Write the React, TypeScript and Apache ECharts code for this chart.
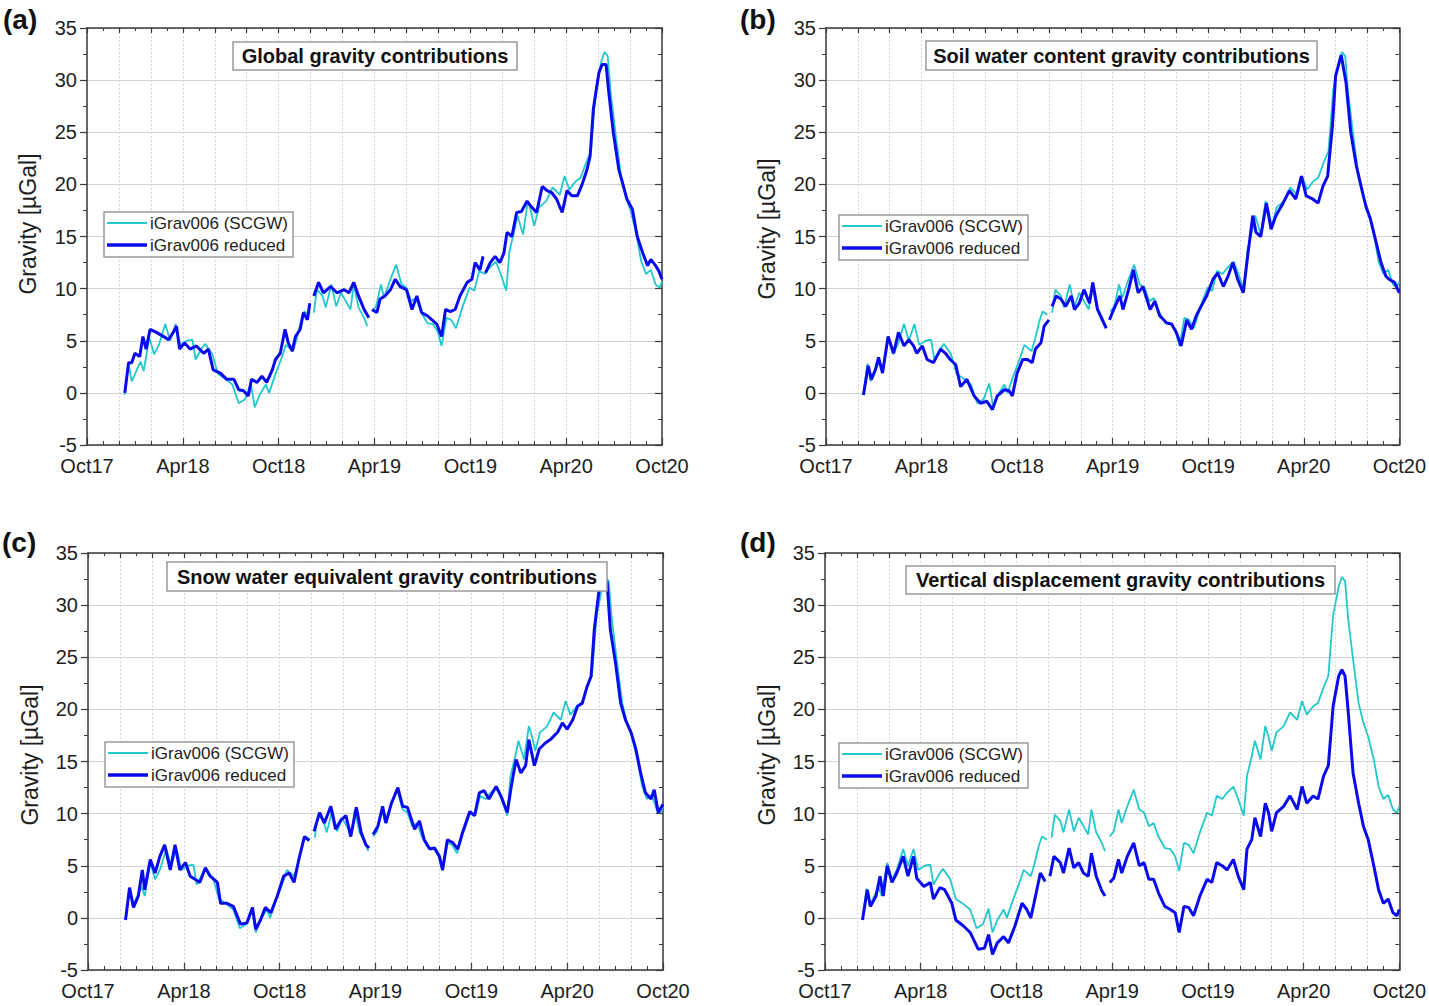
import React, { useEffect, useRef } from "react";
import * as echarts from "echarts";

// x = months since 1 Oct 2017
const xLabels = ["Oct17", "Apr18", "Oct18", "Apr19", "Oct19", "Apr20", "Oct20"];
const seriesNames = ["iGrav006 (SCGW)", "iGrav006 reduced"];
const panelTitles = [
  "Global gravity contributions",
  "Soil water content gravity contributions",
  "Snow water equivalent gravity contributions",
  "Vertical displacement gravity contributions",
];
const panelLetters = ["(a)", "(b)", "(c)", "(d)"];

// observed gravity (same in all panels)
const scgw: [number, number | null][] = [
  [2.35, -0.2], [2.6, 2.8], [2.8, 1.1], [3.0, 1.8], [3.35, 3.0], [3.55, 2.1], [3.9, 5.3], [4.2, 3.7],
  [4.5, 4.6], [4.9, 6.6], [5.2, 5.0], [5.55, 6.6], [5.85, 4.6], [6.25, 5.0], [6.6, 5.1], [6.8, 3.2],
  [7.2, 4.3], [7.4, 4.7], [7.85, 3.7], [8.2, 1.8], [8.7, 1.3], [9.1, 0.8], [9.5, -1.0], [9.9, -0.6],
  [10.25, 0.9], [10.5, -1.4], [10.8, -0.2], [11.2, 0.8], [11.4, 0.0], [11.8, 1.8], [12.2, 3.4],
  [12.45, 4.6], [12.9, 4.0], [13.1, 5.0], [13.4, 6.9], [13.6, 7.8], [13.9, 7.5], [14.05, null],
  [14.2, 7.7], [14.4, 9.9], [14.75, 9.3], [14.95, 8.2], [15.3, 10.4], [15.6, 8.3], [15.9, 9.6],
  [16.2, 8.8], [16.5, 8.0], [16.7, 10.4], [17.0, 8.2], [17.35, 7.2], [17.55, 6.4], [17.7, null],
  [17.85, 7.8], [18.1, 8.3], [18.4, 10.4], [18.6, 9.1], [18.95, 10.7], [19.35, 12.3], [19.7, 10.4],
  [20.0, 10.1], [20.3, 8.8], [20.6, 9.1], [20.9, 7.8], [21.3, 6.7], [21.65, 6.6], [21.95, 5.9],
  [22.2, 4.5], [22.5, 7.2], [22.8, 7.0], [23.1, 6.2], [23.5, 8.2], [23.95, 10.1], [24.25, 9.8],
  [24.55, 11.7], [24.9, 11.4], [25.2, 12.0], [25.6, 12.6], [25.9, 11.4], [26.25, 9.8], [26.45, 13.6],
  [26.75, 15.5], [26.95, 17.0], [27.3, 15.2], [27.6, 18.4], [27.8, 17.4], [28.0, 16.0], [28.3, 17.8],
  [28.75, 18.4], [29.15, 19.7], [29.6, 19.0], [29.9, 20.8], [30.2, 19.5], [30.6, 20.3], [30.9, 20.6],
  [31.25, 22.1], [31.55, 23.2], [31.85, 29.0], [32.2, 31.8], [32.4, 32.7], [32.6, 32.3], [32.8, 28.6],
  [33.1, 24.8], [33.45, 20.6], [33.75, 18.7], [34.05, 17.4], [34.4, 15.2], [34.7, 12.6], [35.0, 11.4],
  [35.3, 11.8], [35.6, 10.4], [35.85, 10.1], [36.0, 10.7],
];

const reducedGlobal: [number, number | null][] = [
  [2.37, 0], [2.6, 2.9], [2.8, 2.9], [3.0, 3.8], [3.3, 3.5], [3.5, 5.4], [3.7, 4.2], [3.95, 6.1],
  [4.35, 5.8], [4.8, 5.4], [5.1, 5.1], [5.4, 5.8], [5.6, 6.4], [5.8, 4.2], [6.1, 4.8], [6.45, 4.2],
  [6.85, 4.5], [7.3, 3.8], [7.6, 4.2], [7.9, 2.2], [8.35, 1.9], [8.75, 1.3], [9.2, 1.3], [9.5, 0.3],
  [9.8, 0.2], [10.1, -0.3], [10.3, 1.3], [10.65, 1.0], [10.95, 1.6], [11.25, 1.0], [11.6, 2.2],
  [11.8, 3.2], [12.1, 3.8], [12.4, 6.1], [12.6, 4.8], [12.85, 4.0], [13.05, 5.4], [13.35, 6.1],
  [13.55, 7.7], [13.8, 7.0], [13.95, 8.6], [14.05, null], [14.2, 9.3], [14.5, 10.6], [14.8, 9.6],
  [15.25, 10.2], [15.65, 9.6], [16.1, 9.9], [16.4, 9.6], [16.7, 10.6], [17.0, 9.3], [17.35, 8.0],
  [17.65, 7.2], [17.75, null], [17.85, 8.0], [18.15, 7.7], [18.35, 9.0], [18.65, 9.3], [19.0, 9.9],
  [19.3, 10.9], [19.6, 10.2], [20.0, 9.9], [20.35, 8.0], [20.65, 9.3], [20.95, 7.7], [21.3, 7.4],
  [21.6, 7.0], [21.9, 6.6], [22.2, 5.4], [22.45, 8.0], [22.75, 7.8], [23.05, 8.0], [23.35, 9.3],
  [23.8, 10.6], [24.1, 10.9], [24.3, 12.5], [24.6, 11.8], [24.8, 13.1], [24.88, null], [24.95, 11.5],
  [25.25, 12.5], [25.55, 13.1], [25.85, 12.5], [26.1, 13.4], [26.3, 15.4], [26.6, 15.0], [26.9, 17.3],
  [27.2, 17.4], [27.55, 18.4], [27.85, 17.8], [28.15, 17.3], [28.5, 19.8], [28.8, 19.4], [29.1, 19.2],
  [29.4, 18.6], [29.75, 17.3], [30.05, 19.4], [30.35, 18.9], [30.7, 18.9], [31.0, 20.0], [31.3, 21.4],
  [31.5, 22.7], [31.7, 27.2], [32.05, 30.7], [32.25, 31.5], [32.5, 31.5], [32.65, 29.1], [32.95, 25.0],
  [33.3, 21.4], [33.5, 20.3], [33.8, 18.6], [34.15, 17.6], [34.45, 15.0], [34.8, 13.4], [35.1, 12.2],
  [35.3, 12.8], [35.6, 12.2], [35.8, 11.7], [36.0, 10.9],
];

const reducedSoil: [number, number | null][] = [
  [2.35, -0.2], [2.65, 2.6], [2.85, 1.3], [3.1, 2.2], [3.3, 3.4], [3.55, 1.9], [3.9, 5.4], [4.25, 3.8],
  [4.55, 5.8], [4.9, 4.5], [5.2, 5.1], [5.5, 4.5], [5.7, 3.8], [6.05, 4.5], [6.35, 3.2], [6.75, 2.9],
  [7.2, 4.2], [7.5, 3.8], [7.8, 3.2], [8.15, 2.7], [8.45, 0.6], [8.85, 1.3], [9.3, -0.3], [9.7, -1.0],
  [10.1, -0.8], [10.45, -1.6], [10.75, -0.3], [11.2, 0.3], [11.5, 0.2], [11.7, -0.3], [12.0, 1.9],
  [12.35, 3.2], [12.65, 3.2], [12.95, 2.9], [13.15, 4.2], [13.5, 4.8], [13.7, 6.4], [14.0, 7.0],
  [14.1, null], [14.2, 8.3], [14.45, 9.3], [14.75, 9.0], [15.05, 8.3], [15.4, 9.3], [15.6, 8.0],
  [15.9, 8.6], [16.2, 9.9], [16.55, 8.6], [16.75, 10.6], [17.05, 8.0], [17.35, 7.0], [17.6, 6.2],
  [17.7, null], [17.8, 7.0], [17.9, 7.4], [18.15, 8.3], [18.45, 9.3], [18.65, 8.0], [19.0, 9.9],
  [19.3, 11.8], [19.6, 9.6], [19.9, 10.2], [20.35, 8.0], [20.65, 8.8], [20.95, 7.4], [21.4, 6.7],
  [21.7, 6.6], [22.0, 5.8], [22.3, 4.5], [22.65, 7.0], [22.95, 6.1], [23.25, 7.4], [23.55, 8.3],
  [23.9, 9.3], [24.3, 10.9], [24.6, 11.5], [24.95, 10.2], [25.25, 11.2], [25.55, 12.5], [25.85, 10.9],
  [26.2, 9.6], [26.5, 13.4], [26.8, 17.0], [27.0, 15.4], [27.3, 15.0], [27.65, 18.2], [27.95, 15.7],
  [28.25, 17.0], [28.7, 18.2], [29.1, 19.4], [29.5, 18.6], [29.85, 20.8], [30.15, 18.9], [30.55, 18.6],
  [30.9, 18.2], [31.2, 19.8], [31.5, 20.8], [31.8, 25.6], [32.0, 30.4], [32.35, 32.4], [32.65, 29.8],
  [32.95, 25.0], [33.3, 21.8], [33.6, 19.8], [33.9, 17.9], [34.2, 16.6], [34.55, 14.4], [34.85, 12.5],
  [35.15, 11.2], [35.35, 10.9], [35.7, 10.6], [36.0, 9.6],
];

const reducedSnow: [number, number | null][] = [
  [2.35, -0.2], [2.6, 2.9], [2.85, 1.0], [3.15, 2.1], [3.4, 4.6], [3.55, 2.7], [3.9, 5.6], [4.2, 4.3],
  [4.5, 5.9], [4.8, 7.0], [5.15, 4.6], [5.45, 7.0], [5.75, 4.6], [6.1, 5.3], [6.4, 4.0], [6.7, 3.7],
  [7.0, 3.4], [7.35, 4.8], [7.65, 4.0], [8.1, 3.4], [8.3, 1.4], [8.7, 1.4], [9.1, 1.1], [9.55, -0.6],
  [9.95, -0.5], [10.3, 1.0], [10.5, -1.1], [10.8, -0.2], [11.1, 1.0], [11.45, 0.5], [11.85, 2.1],
  [12.25, 4.0], [12.6, 4.3], [12.9, 3.4], [13.2, 5.6], [13.55, 7.8], [13.85, 7.4], [14.0, null],
  [14.15, 8.3], [14.5, 10.1], [14.8, 9.1], [15.2, 10.7], [15.5, 8.5], [15.85, 9.4], [16.15, 9.8],
  [16.45, 7.8], [16.8, 10.6], [17.1, 8.2], [17.4, 7.0], [17.6, 6.7], [17.72, null], [17.85, 8.0],
  [18.15, 8.8], [18.45, 10.7], [18.65, 9.1], [19.0, 11.0], [19.4, 12.5], [19.7, 10.7], [20.0, 10.6],
  [20.45, 8.5], [20.75, 9.3], [21.05, 7.5], [21.4, 6.6], [21.7, 6.7], [22.0, 5.9], [22.2, 4.6],
  [22.5, 7.5], [22.85, 7.2], [23.15, 6.6], [23.45, 8.2], [23.9, 10.2], [24.2, 9.8], [24.5, 12.0],
  [24.8, 12.2], [25.1, 11.4], [25.55, 12.6], [25.85, 11.7], [26.25, 10.1], [26.5, 12.6], [26.8, 15.2],
  [27.1, 13.9], [27.4, 14.6], [27.6, 17.1], [27.95, 14.6], [28.25, 16.2], [28.65, 16.8], [28.95, 17.1],
  [29.4, 17.8], [29.7, 18.7], [30.0, 18.1], [30.35, 19.0], [30.65, 20.3], [30.95, 20.6], [31.25, 22.2],
  [31.5, 23.2], [31.7, 27.7], [32.0, 31.5], [32.3, 32.6], [32.5, 32.2], [32.7, 27.7], [33.05, 24.2],
  [33.35, 20.6], [33.65, 19.0], [34.0, 17.8], [34.3, 16.2], [34.6, 13.9], [34.9, 12.0], [35.25, 11.4],
  [35.45, 12.3], [35.7, 10.1], [36.0, 10.9],
];

const reducedVertical: [number, number | null][] = [
  [2.35, -0.2], [2.65, 2.7], [2.85, 1.1], [3.2, 2.1], [3.45, 4.0], [3.65, 2.1], [3.9, 5.0], [4.2, 3.4],
  [4.5, 4.3], [4.9, 5.9], [5.2, 4.0], [5.55, 5.9], [5.75, 3.8], [6.2, 3.0], [6.6, 3.4], [6.8, 1.8],
  [7.2, 2.9], [7.5, 2.7], [7.95, 1.4], [8.2, -0.2], [8.7, -0.8], [9.1, -1.4], [9.6, -3.0], [10.0, -2.9],
  [10.25, -1.6], [10.5, -3.5], [10.8, -2.4], [11.2, -1.8], [11.5, -2.4], [11.9, -0.8], [12.35, 1.4],
  [12.65, 0.8], [12.9, 0.0], [13.1, 1.4], [13.5, 4.3], [13.8, 3.5], [13.95, null], [14.1, 4.0],
  [14.35, 5.9], [14.75, 5.3], [14.95, 4.3], [15.3, 6.7], [15.6, 4.8], [15.9, 5.3], [16.2, 4.3],
  [16.5, 4.0], [16.7, 6.2], [17.0, 4.0], [17.35, 2.6], [17.55, 2.1], [17.7, null], [17.85, 3.4],
  [18.1, 3.8], [18.4, 5.6], [18.6, 4.3], [18.95, 5.9], [19.35, 7.2], [19.7, 5.0], [20.0, 5.3],
  [20.3, 3.7], [20.6, 3.7], [20.9, 2.4], [21.3, 1.1], [21.65, 0.8], [21.95, 0.5], [22.2, -1.4],
  [22.5, 1.1], [22.8, 1.0], [23.1, 0.2], [23.5, 2.1], [23.95, 3.7], [24.25, 3.4], [24.55, 5.3],
  [24.9, 5.0], [25.2, 4.6], [25.6, 5.6], [25.9, 4.0], [26.25, 2.7], [26.45, 6.6], [26.75, 7.5],
  [26.95, 9.6], [27.3, 7.8], [27.6, 11.0], [27.8, 10.1], [28.0, 8.3], [28.3, 10.1], [28.75, 10.7],
  [29.15, 11.7], [29.6, 10.4], [29.9, 12.6], [30.2, 11.0], [30.6, 11.7], [30.9, 11.4], [31.25, 13.6],
  [31.55, 14.6], [31.85, 20.3], [32.2, 23.2], [32.4, 23.8], [32.6, 23.2], [32.8, 19.7], [33.1, 13.9],
  [33.45, 11.0], [33.75, 8.8], [34.05, 7.5], [34.4, 5.0], [34.7, 2.7], [35.0, 1.4], [35.3, 1.8],
  [35.6, 0.5], [35.85, 0.2], [36.0, 0.8],
];

const reducedSets = [reducedGlobal, reducedSoil, reducedSnow, reducedVertical];

const CYAN = "#22C8CC";
const BLUE = "#0A0AEE";
const FONT = "'Liberation Sans', Arial, Helvetica, sans-serif";

// layout of each panel
const panels = [
  { left: 87, top: 28, titleBox: [233, 42, 284, 28], legend: [104, 212], yName: [28, 224], letter: [3, 19] },
  { left: 826, top: 28, titleBox: [926, 41, 391, 29], legend: [839, 215], yName: [767, 229], letter: [740, 19] },
  { left: 88, top: 553, titleBox: [167, 562, 440, 29], legend: [105, 742], yName: [30, 755], letter: [2, 542] },
  { left: 825, top: 553, titleBox: [906, 566, 429, 28], legend: [839, 743], yName: [767, 755], letter: [740, 542] },
];
const PW = 575;
const PH = 417;

const toData = (arr: [number, number | null][]) => arr.map(([m, v]) => [m, v === null ? "-" : v]);

export default function App() {
  const ref = useRef<HTMLDivElement>(null);
  useEffect(() => {
    if (!ref.current) return;
    const chart = echarts.init(ref.current, undefined, { renderer: "svg" });
    const grid: any[] = [];
    const xAxis: any[] = [];
    const yAxis: any[] = [];
    const series: any[] = [];
    const graphic: any[] = [];
    const axisColor = "#3a3a3a";

    panels.forEach((p, i) => {
      grid.push({ left: p.left, top: p.top, width: PW, height: PH, containLabel: false });
      // bottom x axis
      xAxis.push({
        type: "value", gridIndex: i, min: 0, max: 36, interval: 6, position: "bottom",
        axisLine: { show: true, onZero: false, lineStyle: { color: axisColor, width: 1.5 } },
        axisTick: { show: true, inside: true, length: 7, lineStyle: { color: axisColor, width: 1.2 } },
        minorTick: { show: true, splitNumber: 6, length: 4, lineStyle: { color: axisColor, width: 1 } },
        axisLabel: {
          show: true, margin: 11, fontSize: 20, color: "#1e1e1e", fontFamily: FONT,
          formatter: (v: number) => xLabels[Math.round(v / 6)] ?? "",
        },
        splitLine: { show: false },
      });
      // top x axis (mirror, with 2-month grid lines)
      xAxis.push({
        type: "value", gridIndex: i, min: 0, max: 36, interval: 2, position: "top",
        axisLine: { show: true, onZero: false, lineStyle: { color: axisColor, width: 1.5 } },
        axisTick: { show: true, inside: true, length: 5, lineStyle: { color: axisColor, width: 1.2 } },
        minorTick: { show: true, splitNumber: 2, length: 3, lineStyle: { color: axisColor, width: 1 } },
        axisLabel: { show: false },
        splitLine: { show: true, lineStyle: { color: "#d6d6d6", width: 1, type: [2, 2] } },
      });
      yAxis.push({
        type: "value", gridIndex: i, min: -5, max: 35, interval: 5, position: "left",
        axisLine: { show: true, onZero: false, lineStyle: { color: axisColor, width: 1.5 } },
        axisTick: { show: true, inside: false, length: 7, lineStyle: { color: axisColor, width: 1.2 } },
        minorTick: { show: true, splitNumber: 2, length: 4, lineStyle: { color: axisColor, width: 1 } },
        axisLabel: { show: true, margin: 10, fontSize: 20, color: "#1e1e1e", fontFamily: FONT },
        splitLine: { show: true, lineStyle: { color: "#d2d2d2", width: 1.2 } },
      });
      yAxis.push({
        type: "value", gridIndex: i, min: -5, max: 35, interval: 5, position: "right",
        axisLine: { show: true, onZero: false, lineStyle: { color: axisColor, width: 1.5 } },
        axisTick: { show: true, inside: true, length: 7, lineStyle: { color: axisColor, width: 1.2 } },
        minorTick: { show: true, splitNumber: 2, length: 4, lineStyle: { color: axisColor, width: 1 } },
        axisLabel: { show: false },
        splitLine: { show: false },
      });
      series.push({
        type: "line", name: seriesNames[0], xAxisIndex: i * 2, yAxisIndex: i * 2,
        data: toData(scgw), showSymbol: false, symbol: "none", connectNulls: false,
        lineStyle: { color: CYAN, width: 1.8 }, itemStyle: { color: CYAN }, z: 3,
      });
      series.push({
        type: "line", name: seriesNames[1], xAxisIndex: i * 2, yAxisIndex: i * 2,
        data: toData(reducedSets[i]), showSymbol: false, symbol: "none", connectNulls: false,
        lineStyle: { color: BLUE, width: 3 }, itemStyle: { color: BLUE }, z: 4,
      });

      // title box
      const [tx, ty, tw, th] = p.titleBox;
      graphic.push({
        type: "rect", z: 100, shape: { x: tx, y: ty, width: tw, height: th },
        style: { fill: "#ffffff", stroke: "#9a9a9a", lineWidth: 1.5 },
      });
      graphic.push({
        type: "text", z: 101, x: tx + tw / 2, y: ty + th / 2,
        style: {
          text: panelTitles[i], font: `bold 20px ${FONT}`, fill: "#111",
          textAlign: "center", textVerticalAlign: "middle", align: "center", verticalAlign: "middle",
        },
      });
      // legend box
      const [lx, ly] = p.legend;
      graphic.push({
        type: "rect", z: 100, shape: { x: lx, y: ly, width: 189, height: 45 },
        style: { fill: "#ffffff", stroke: "#9a9a9a", lineWidth: 1.5 },
      });
      graphic.push({
        type: "line", z: 101, shape: { x1: lx + 3, y1: ly + 11, x2: lx + 43, y2: ly + 11 },
        style: { stroke: CYAN, lineWidth: 2 },
      });
      graphic.push({
        type: "line", z: 101, shape: { x1: lx + 3, y1: ly + 33, x2: lx + 43, y2: ly + 33 },
        style: { stroke: BLUE, lineWidth: 3.5 },
      });
      seriesNames.forEach((nm, k) => {
        graphic.push({
          type: "text", z: 101, x: lx + 46, y: ly + 11 + k * 22,
          style: {
            text: nm, font: `17px ${FONT}`, fill: "#1e1e1e",
            textAlign: "left", textVerticalAlign: "middle", align: "left", verticalAlign: "middle",
          },
        });
      });
      // y axis name
      graphic.push({
        type: "text", z: 101, x: p.yName[0], y: p.yName[1], rotation: Math.PI / 2,
        style: {
          text: "Gravity [µGal]", font: `23px ${FONT}`, fill: "#1e1e1e",
          textAlign: "center", textVerticalAlign: "middle", align: "center", verticalAlign: "middle",
        },
      });
      // panel letter
      graphic.push({
        type: "text", z: 101, x: p.letter[0], y: p.letter[1],
        style: {
          text: panelLetters[i], font: `bold 28px ${FONT}`, fill: "#111",
          textAlign: "left", textVerticalAlign: "middle", align: "left", verticalAlign: "middle",
        },
      });
    });

    chart.setOption({
      animation: false,
      backgroundColor: "#ffffff",
      textStyle: { fontFamily: FONT },
      grid, xAxis, yAxis, series, graphic,
    });
    return () => chart.dispose();
  }, []);
  return (
    <div
      ref={ref}
      style={{ position: "absolute", left: 0, top: 0, width: 1429, height: 1006, background: "#fff" }}
    />
  );
}
